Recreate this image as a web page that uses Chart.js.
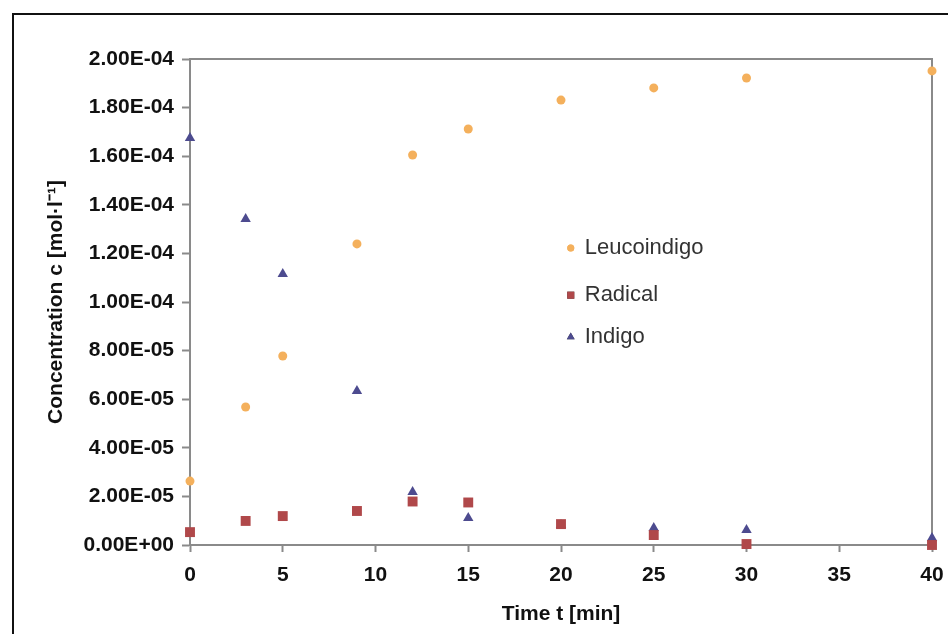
<!DOCTYPE html>
<html lang="en">
<head>
    <meta charset="UTF-8">
    <title>Concentration vs Time</title>
    <script src="https://cdn.jsdelivr.net/npm/chart.js"></script>
    <style>
        body {
            margin: 0;
            padding: 0;
            background: #ffffff;
            overflow: hidden;
        }
        .wrap {
            position: relative;
            width: 948px;
            height: 634px;
        }
        .frame {
            position: absolute;
            left: 12px;
            top: 13px;
            width: 1000px;
            height: 700px;
            border: 2px solid #111;
        }
        canvas {
            position: absolute;
            left: 0;
            top: 0;
        }
    </style>
</head>
<body>
    <div class="wrap">
        <div class="frame"></div>
        <canvas id="concChart" width="948" height="634"></canvas>
    </div>

    <script>
        // data
        const times = [0, 3, 5, 9, 12, 15, 20, 25, 30, 40];
        const leucoindigo = [2.63e-5, 5.68e-5, 7.78e-5, 1.239e-4, 1.605e-4, 1.712e-4, 1.831e-4, 1.881e-4, 1.922e-4, 1.951e-4];
        const radical = [5.3e-6, 9.9e-6, 1.19e-5, 1.40e-5, 1.79e-5, 1.75e-5, 8.6e-6, 4.1e-6, 4e-7, 0];
        const indigo = [1.675e-4, 1.342e-4, 1.115e-4, 6.34e-5, 2.18e-5, 1.11e-5, 8.2e-6, 7.0e-6, 6.2e-6, 2.9e-6];
        const seriesNames = ['Leucoindigo', 'Radical', 'Indigo'];

        const toPoints = (ys) => times.map((t, i) => ({ x: t, y: ys[i] }));

        function sci(v) {
            if (Math.abs(v) < 1e-12) return '0.00E+00';
            const parts = v.toExponential(2).split('e');
            const n = parseInt(parts[1]);
            return parts[0] + 'E' + (n < 0 ? '-' : '+') + String(Math.abs(n)).padStart(2, '0');
        }

        const axisGray = '#8a8a8a';
        const tickFont = { family: 'Liberation Sans', size: 21, weight: 'bold' };
        const titleFont = { family: 'Liberation Sans', size: 21, weight: 'bold' };

        // top and right edge of the plot box
        const boxPlugin = {
            id: 'box',
            beforeDatasetsDraw(chart) {
                const a = chart.chartArea;
                const c = chart.ctx;
                c.save();
                c.strokeStyle = axisGray;
                c.lineWidth = 2;
                c.beginPath();
                c.moveTo(a.left, a.top);
                c.lineTo(a.right, a.top);
                c.lineTo(a.right, a.bottom);
                c.stroke();
                c.restore();
            }
        };

        // legend sits inside the plot, like the original
        const innerLegend = {
            id: 'innerLegend',
            afterDraw(chart) {
                const a = chart.chartArea;
                const c = chart.ctx;
                const x = a.left + (a.right - a.left) * 0.532;
                const ys = [0.389, 0.486, 0.572].map(f => a.top + (a.bottom - a.top) * f);
                c.save();
                c.font = '22px "Liberation Sans"';
                c.textBaseline = 'middle';
                chart.data.datasets.forEach((ds, i) => {
                    Chart.helpers.drawPoint(c, {
                        pointStyle: ds.pointStyle,
                        radius: ds.legendRadius,
                        rotation: 0
                    }, x - 14, ys[i]);
                    c.fillStyle = ds.backgroundColor;
                    c.fill();
                    c.fillStyle = '#333';
                    c.fillText(seriesNames[i], x, ys[i]);
                });
                c.restore();
            }
        };

        const ctx = document.getElementById('concChart').getContext('2d');
        const concChart = new Chart(ctx, {
            type: 'scatter',
            data: {
                datasets: [{
                    label: seriesNames[0],
                    data: toPoints(leucoindigo),
                    pointStyle: 'circle',
                    pointRadius: 4.5,
                    legendRadius: 3.5,
                    backgroundColor: '#f4b05c',
                    borderColor: '#f4b05c',
                    borderWidth: 0,
                    clip: false
                }, {
                    label: seriesNames[1],
                    data: toPoints(radical),
                    pointStyle: 'rect',
                    pointRadius: 7,
                    legendRadius: 5,
                    backgroundColor: '#b0484a',
                    borderColor: '#b0484a',
                    borderWidth: 0,
                    clip: false
                }, {
                    label: seriesNames[2],
                    data: toPoints(indigo),
                    pointStyle: 'triangle',
                    pointRadius: 6,
                    legendRadius: 4.5,
                    backgroundColor: '#4d4b8f',
                    borderColor: '#4d4b8f',
                    borderWidth: 0,
                    clip: false
                }]
            },
            options: {
                responsive: false,
                animation: false,
                events: [],
                layout: {
                    padding: { left: 39, top: 59, right: 16, bottom: 0 }
                },
                plugins: {
                    legend: { display: false },
                    tooltip: { enabled: false }
                },
                scales: {
                    x: {
                        type: 'linear',
                        min: 0,
                        max: 40,
                        afterFit(scale) {
                            scale.height = 89;
                            scale.paddingLeft = 0;
                            scale.paddingRight = 0;
                        },
                        ticks: {
                            stepSize: 5,
                            color: '#111',
                            font: tickFont,
                            padding: 11,
                            maxRotation: 0
                        },
                        grid: {
                            drawOnChartArea: false,
                            drawTicks: true,
                            tickLength: 7,
                            tickColor: axisGray,
                            tickWidth: 2
                        },
                        border: { color: axisGray, width: 2 },
                        title: {
                            display: true,
                            text: 'Time t [min]',
                            color: '#111',
                            font: titleFont,
                            padding: { top: 0, bottom: 7 }
                        }
                    },
                    y: {
                        min: 0,
                        max: 2e-4,
                        afterFit(scale) { scale.width = 151; },
                        ticks: {
                            stepSize: 2e-5,
                            color: '#111',
                            font: tickFont,
                            padding: 8,
                            callback: (v) => sci(v)
                        },
                        grid: {
                            drawOnChartArea: false,
                            drawTicks: true,
                            tickLength: 8,
                            tickColor: axisGray,
                            tickWidth: 2
                        },
                        border: { color: axisGray, width: 2 },
                        title: {
                            display: true,
                            text: 'Concentration c [mol\u00b7l\u207b\u00b9]',
                            color: '#111',
                            font: titleFont,
                            padding: { top: 5, bottom: 0 }
                        }
                    }
                }
            },
            plugins: [boxPlugin, innerLegend]
        });
    </script>
</body>
</html>
